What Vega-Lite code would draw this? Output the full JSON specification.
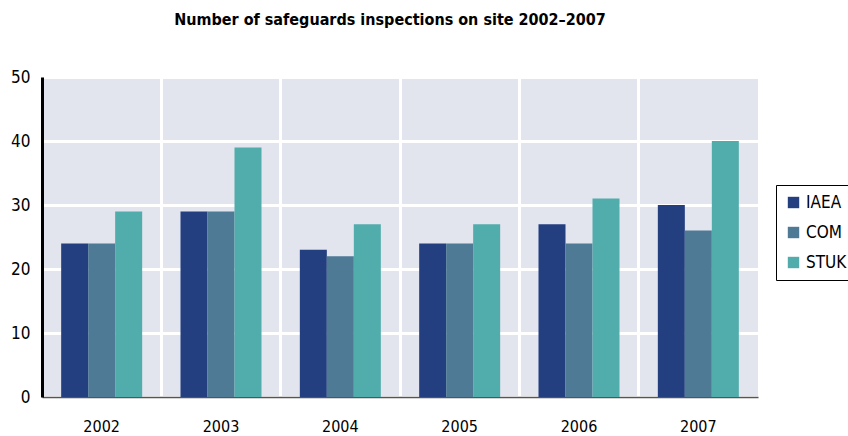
{
  "$schema": "https://vega.github.io/schema/vega-lite/v6.json",
  "width": 716,
  "height": 320,
  "autosize": {"type": "none"},
  "padding": {"left": 42, "top": 77, "right": 90, "bottom": 39},
  "background": "white",
  "title": {
    "text": "Number of safeguards inspections on site 2002–2007",
    "font": "DejaVu Sans Condensed, Roboto, sans-serif",
    "fontSize": 16,
    "fontWeight": "bold",
    "color": "black",
    "anchor": "middle",
    "offset": 40,
    "dx": -10
  },
  "data": {
    "values": [
      {"year": "2002", "org": "IAEA", "n": 24},
      {"year": "2002", "org": "COM", "n": 24},
      {"year": "2002", "org": "STUK", "n": 29},
      {"year": "2003", "org": "IAEA", "n": 29},
      {"year": "2003", "org": "COM", "n": 29},
      {"year": "2003", "org": "STUK", "n": 39},
      {"year": "2004", "org": "IAEA", "n": 23},
      {"year": "2004", "org": "COM", "n": 22},
      {"year": "2004", "org": "STUK", "n": 27},
      {"year": "2005", "org": "IAEA", "n": 24},
      {"year": "2005", "org": "COM", "n": 24},
      {"year": "2005", "org": "STUK", "n": 27},
      {"year": "2006", "org": "IAEA", "n": 27},
      {"year": "2006", "org": "COM", "n": 24},
      {"year": "2006", "org": "STUK", "n": 31},
      {"year": "2007", "org": "IAEA", "n": 30},
      {"year": "2007", "org": "COM", "n": 26},
      {"year": "2007", "org": "STUK", "n": 40}
    ]
  },
  "mark": {"type": "bar"},
  "encoding": {
    "x": {
      "field": "year",
      "type": "nominal",
      "scale": {"paddingInner": 0, "paddingOuter": 0},
      "axis": {
        "title": null,
        "bandPosition": 0,
        "labelAngle": 0,
        "labelPadding": 21,
        "ticks": false,
        "grid": true,
        "gridColor": "white",
        "gridWidth": 3,
        "gridOpacity": 1,
        "domainColor": "#555555",
        "domainWidth": 1.5,
        "labelFont": "DejaVu Sans Condensed, Roboto, sans-serif",
        "labelFontSize": 16,
        "labelColor": "black"
      }
    },
    "xOffset": {
      "field": "org",
      "type": "nominal",
      "sort": ["IAEA", "COM", "STUK"],
      "scale": {"paddingInner": 0, "paddingOuter": 0.71}
    },
    "y": {
      "field": "n",
      "type": "quantitative",
      "scale": {"domain": [0, 50], "nice": false},
      "axis": {
        "title": null,
        "values": [0, 10, 20, 30, 40, 50],
        "ticks": false,
        "grid": true,
        "gridColor": "white",
        "gridWidth": 3,
        "gridOpacity": 1,
        "domainColor": "black",
        "domainWidth": 3,
        "labelPadding": 12,
        "labelFont": "DejaVu Sans Condensed, Roboto, sans-serif",
        "labelFontSize": 17,
        "labelColor": "black"
      }
    },
    "color": {
      "field": "org",
      "type": "nominal",
      "sort": ["IAEA", "COM", "STUK"],
      "scale": {"domain": ["IAEA", "COM", "STUK"], "range": ["#233f80", "#4e7a96", "#51acac"]},
      "legend": {
        "title": null,
        "orient": "none",
        "legendX": 734,
        "legendY": 108,
        "symbolType": "square",
        "symbolSize": 130,
        "symbolStrokeWidth": 0,
        "symbolOpacity": 1,
        "labelFont": "DejaVu Sans Condensed, Roboto, sans-serif",
        "labelFontSize": 17,
        "labelColor": "black",
        "labelOffset": 4,
        "rowPadding": 12,
        "strokeColor": "black",
        "padding": 9
      }
    }
  },
  "config": {
    "view": {"fill": "#e2e4ee", "stroke": null}
  }
}
